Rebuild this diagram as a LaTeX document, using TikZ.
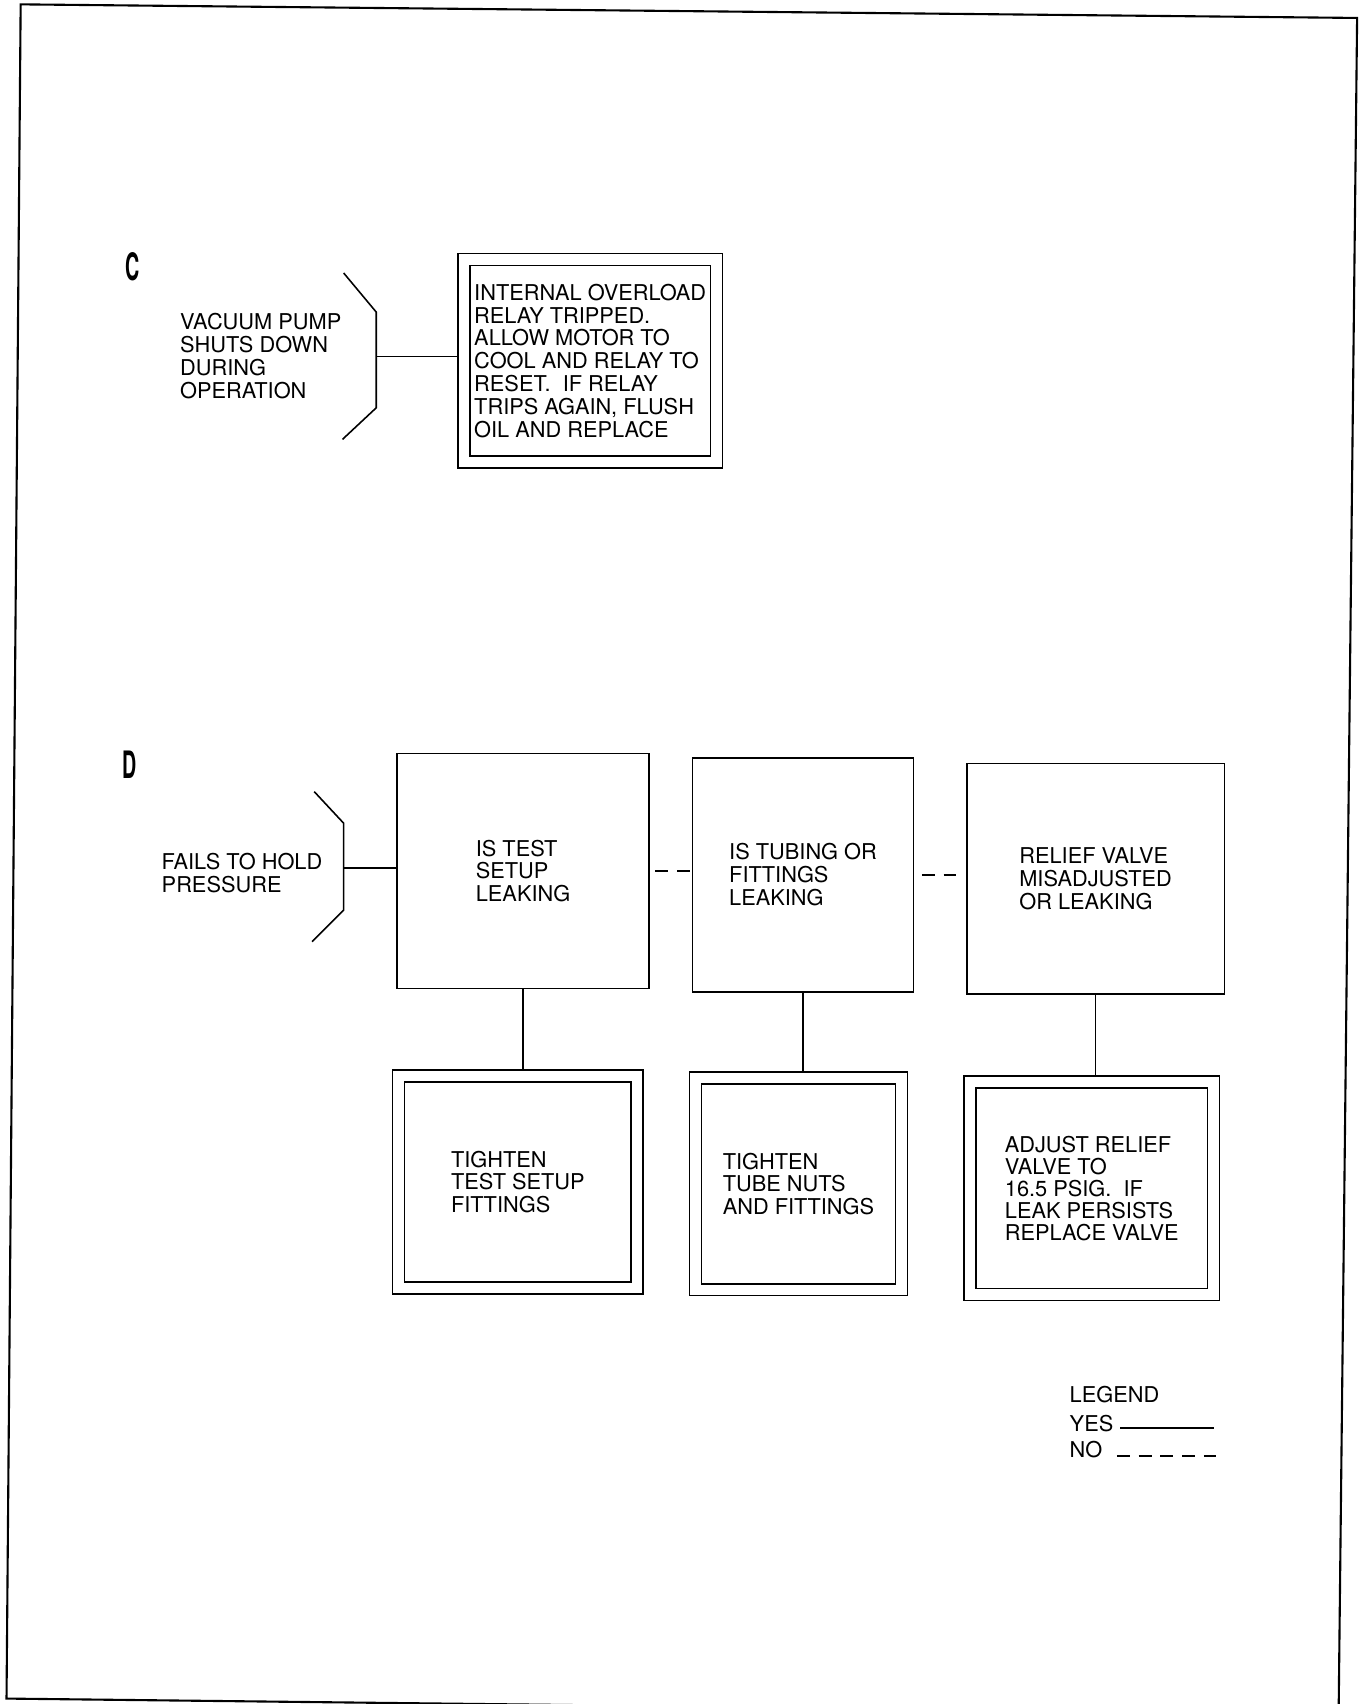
\documentclass[tikz,border=0pt]{standalone}
\usepackage{fontspec}
\setmainfont{TeX Gyre Heros}
\newlength{\pxlen}
\setlength{\pxlen}{0.021754cm}
\begin{document}
\begin{tikzpicture}
	[x=\pxlen, y=-\pxlen, line width=0.9pt,
	txt/.style={font=\fontsize{12.4}{13}\selectfont, align=left, inner sep=0pt},
	qbox/.style={draw, txt},
	fixbox/.style={draw, txt, double, double distance=9.5\pxlen, outer sep=5.5\pxlen},
	sect/.style={font=\bfseries\fontsize{21.5}{21.5}\selectfont, inner sep=0pt},
	nolink/.style={dash pattern=on 7.4pt off 5pt}]

	\useasboundingbox (0,0) rectangle (1254,1567);

	% Draw page frame
	\draw[line width=1.2pt] (19,4) -- (1248,16.5) -- (1231,1576) -- (6,1562) -- cycle;

	% Section C
	\node[sect] (labelC) at (122,245) {\scalebox{0.52}[1]{C}};
	\node[txt, anchor=west] (pump) at (165,327.5) {VACUUM PUMP\\SHUTS DOWN\\DURING\\OPERATION};

	\coordinate (Ctop) at (316,251);
	\coordinate (Cmid) at (346,328);
	\coordinate (Cbot) at (315,404);
	\draw (Ctop) -- (346,287) -- (346,375) -- (Cbot);

	\node[fixbox, minimum width=232.5\pxlen, minimum height=186.5\pxlen] (relay) at (542.75,331.75)
		{INTERNAL OVERLOAD\\RELAY TRIPPED.\\ALLOW MOTOR TO\\COOL AND RELAY TO\\RESET.~ IF RELAY\\TRIPS AGAIN, FLUSH\\OIL AND REPLACE};
	\draw (Cmid) -- (Cmid -| relay.west);

	% Section D
	\node[sect] (labelD) at (119,703) {\scalebox{0.52}[1]{D}};
	\node[txt, anchor=west] (fails) at (148,802.5) {FAILS TO HOLD\\PRESSURE};

	\coordinate (Dtop) at (289,728);
	\coordinate (Dmid) at (316,798);
	\coordinate (Dbot) at (287,866);
	\draw (Dtop) -- (316,757) -- (316,837) -- (Dbot);

	% Questions
	\node[qbox, minimum width=232\pxlen, minimum height=216\pxlen] (setup) at (481,801)
		{IS TEST\\SETUP\\LEAKING};
	\node[qbox, minimum width=203\pxlen, minimum height=215\pxlen] (tubing) at (738.5,804.5)
		{IS TUBING OR\\FITTINGS\\LEAKING};
	\node[qbox, minimum width=237\pxlen, minimum height=212\pxlen] (valve) at (1007.5,808)
		{RELIEF VALVE\\MISADJUSTED\\OR LEAKING};

	% Remedies
	\node[fixbox, minimum width=219.5\pxlen, minimum height=195\pxlen] (fixsetup) at (476.25,1087)
		{TIGHTEN\\TEST SETUP\\FITTINGS};
	\node[fixbox, minimum width=189.5\pxlen, minimum height=194.5\pxlen] (fixtube) at (734.25,1088.75)
		{TIGHTEN\\TUBE NUTS\\AND FITTINGS};
	\node[fixbox, minimum width=224\pxlen, minimum height=195.5\pxlen, font=\fontsize{12.4}{12.5}\selectfont] (fixvalve) at (1004,1092.75)
		{ADJUST RELIEF\\VALVE TO\\16.5 PSIG.~ IF\\LEAK PERSISTS\\REPLACE VALVE};

	% Connect
	\draw (Dmid) -- (Dmid -| setup.west);
	\draw[nolink, shorten <=5\pxlen, shorten >=2\pxlen] (setup.east) -- (setup.east -| tubing.west);
	\draw[nolink, shorten <=7\pxlen, shorten >=9\pxlen] (tubing.east) -- (tubing.east -| valve.west);
	\draw (setup.south) -- (setup.south |- fixsetup.north);
	\draw (tubing.south) -- (tubing.south |- fixtube.north);
	\draw (valve.south) -- (valve.south |- fixvalve.north);

	% Legend
	\node[txt, anchor=west] (legend) at (983,1282) {LEGEND};
	\node[txt, anchor=west] (yes) at (983,1309) {YES};
	\node[txt, anchor=west] (no) at (983,1333) {NO};
	\coordinate (yesa) at (1030,1313);
	\coordinate (yesb) at (1116,1313);
	\coordinate (noa) at (1027,1339);
	\coordinate (nob) at (1118,1339);
	\draw (yesa) -- (yesb);
	\draw[nolink] (noa) -- (nob);

\end{tikzpicture}
\end{document}
